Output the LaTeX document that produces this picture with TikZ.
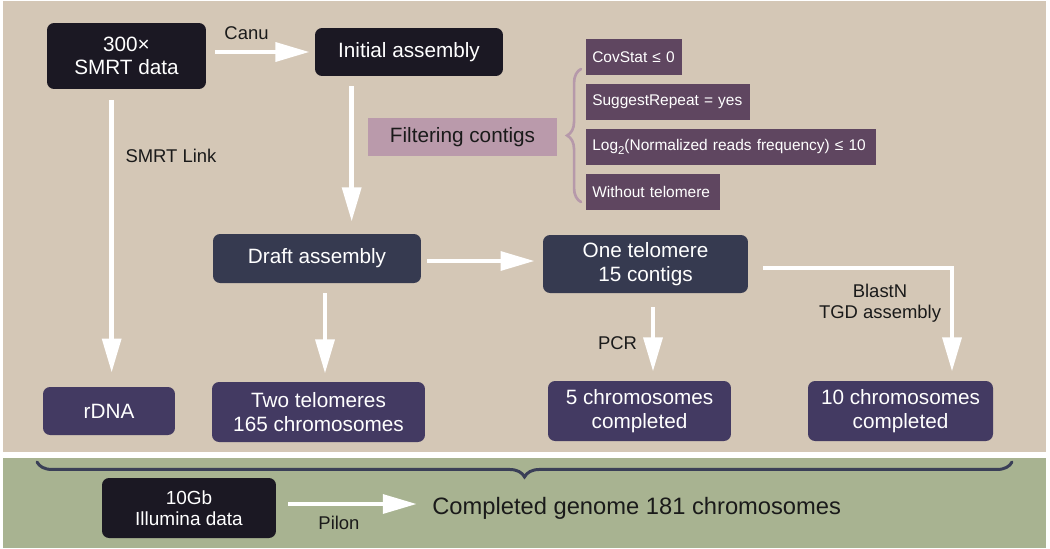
\documentclass[tikz,border=0pt]{standalone}
\usepackage{fontspec}
\setmainfont{Liberation Sans}
\usetikzlibrary{arrows.meta,calc,decorations.pathreplacing}
\definecolor{bgtan}{HTML}{D4C7B6}
\definecolor{bggreen}{HTML}{A8B391}
\definecolor{boxblack}{HTML}{1B1823}
\definecolor{boxslate}{HTML}{363A50}
\definecolor{boxpurple}{HTML}{433A62}
\definecolor{critcol}{HTML}{5F4660}
\definecolor{pinkcol}{HTML}{BA9AAB}
\definecolor{bracemauve}{HTML}{B699AA}
\definecolor{bracedark}{HTML}{3A3F57}
\definecolor{txtdark}{HTML}{1A1A1A}
\begin{document}
\begin{tikzpicture}[x=0.02cm,y=-0.02cm,
  box/.style={rounded corners=4pt, text=white, align=center, inner sep=0pt,
    font=\fontsize{11.8}{13.8}\selectfont},
  crit/.style={fill=critcol, text=white, anchor=west, align=left, inner xsep=3.4pt,
    inner ysep=0pt, minimum height=0.72cm, font=\fontsize{8.8}{10}\selectfont},
  lbl/.style={text=txtdark, inner sep=0pt, align=center, font=\fontsize{10.5}{11.8}\selectfont},
  warrow/.style={draw=white, line width=2.8pt, -{Triangle[length=19.5pt,width=10.5pt]}},
  bracepath/.style={decorate, line cap=round}
]
\useasboundingbox (0,0) rectangle (1050,548);
\fill[white] (0,0) rectangle (1050,548);
\fill[bgtan] (3,1) rectangle (1046,452);
\fill[bggreen] (3,458) rectangle (1046,548);

% nodes
\node[box, fill=boxblack, minimum width=3.18cm, minimum height=1.32cm,
  font=\fontsize{11.8}{12.8}\selectfont] (smrt) at (126.5,56) {300×\\SMRT data};
\node[box, fill=boxblack, minimum width=3.76cm, minimum height=0.96cm] (init) at (409,52) {Initial assembly};
\node[fill=pinkcol, text=txtdark, inner sep=0pt, minimum width=3.78cm, minimum height=0.76cm,
  font=\fontsize{11.8}{13.8}\selectfont] (filt) at (462.5,137) {Filtering contigs};
\node[crit, text width=1.68cm] (c1) at (586,57) {CovStat ≤ 0};
\node[crit, text width=3.04cm] (c2) at (586,102) {SuggestRepeat = yes};
\node[crit, text width=5.56cm] (c3) at (586,147) {Log\raisebox{-0.55ex}{\fontsize{6.5}{7}\selectfont 2}(Normalized reads frequency) ≤ 10};
\node[crit, text width=2.44cm] (c4) at (586,192) {Without telomere};
\node[box, fill=boxpurple, minimum width=2.64cm, minimum height=0.96cm] (rdna) at (109,411) {rDNA};
\node[box, fill=boxslate, minimum width=4.16cm, minimum height=0.98cm] (draft) at (317,258.5) {Draft assembly};
\node[box, fill=boxpurple, minimum width=4.26cm, minimum height=1.2cm] (two) at (318.5,412) {Two telomeres\\165 chromosomes};
\node[box, fill=boxslate, minimum width=4.1cm, minimum height=1.16cm] (one) at (645.5,264) {One telomere\\15 contigs};
\node[box, fill=boxpurple, minimum width=3.66cm, minimum height=1.2cm] (five) at (639.5,411) {5 chromosomes\\completed};
\node[box, fill=boxpurple, minimum width=3.7cm, minimum height=1.2cm] (ten) at (900.5,411) {10 chromosomes\\completed};
\node[box, fill=boxblack, minimum width=3.48cm, minimum height=1.2cm,
  font=\fontsize{10.8}{12}\selectfont] (illu) at (189,508) {10Gb\\Illumina data};
\node[text=txtdark, inner sep=0pt, anchor=west, font=\fontsize{13.5}{16}\selectfont] (genome) at (432,508) {Completed genome 181 chromosomes};

% labels
\node[lbl] (lcanu) at (246.5,33) {Canu};
\node[lbl] (llink) at (171,156) {SMRT Link};
\node[lbl] (lpcr) at (617.5,343) {PCR};
\node[lbl] (lblast) at (880,303) {BlastN\\TGD assembly};
\node[lbl] (lpilon) at (339,523) {Pilon};

% connectors
\draw[warrow, shorten <=5.1pt, shorten >=2.8pt] (smrt.east |- init.west) -- (init.west);
\coordinate (a1) at ($(init.south west)+(37,0)$);
\draw[warrow, shorten <=5.7pt, shorten >=6.8pt] (a1) -- (a1 |- draft.north);
\coordinate (a2) at ($(smrt.south west)+(65,0)$);
\draw[warrow, shorten <=6.2pt, shorten >=7.9pt] (a2) -- (a2 |- rdna.north);
\coordinate (a3) at ($(draft.south)+(8,0)$);
\draw[warrow, shorten <=5.7pt, shorten >=4.5pt] (a3) -- (a3 |- two.north);
\coordinate (a4) at ($(draft.east)+(0,2.5)$);
\draw[warrow, shorten <=3.4pt, shorten >=4.5pt] (a4) -- (a4 -| one.west);
\coordinate (a5) at ($(one.south)+(7.5,0)$);
\draw[warrow, shorten <=7.9pt, shorten >=5.1pt] (a5) -- (a5 |- five.north);
\coordinate (a6) at ($(one.east)+(0,4)$);
\coordinate (a7) at ($(ten.north)+(51.5,0)$);
\draw[warrow, shorten <=8.5pt, shorten >=5.1pt] (a6) -| (a7);
\coordinate (a8) at ($(illu.east)+(0,-4)$);
\draw[warrow, shorten <=6.8pt, shorten >=8.5pt] (a8) -- (a8 -| genome.west);

% braces
\draw[bracepath, decoration={brace, amplitude=7.9pt}, draw=bracemauve, line width=1.5pt]
  (581,202) -- (581,69);
\draw[bracepath, decoration={brace, amplitude=8.5pt}, draw=bracedark, line width=1.7pt]
  (1012,462) -- (37,462);
\end{tikzpicture}
\end{document}
